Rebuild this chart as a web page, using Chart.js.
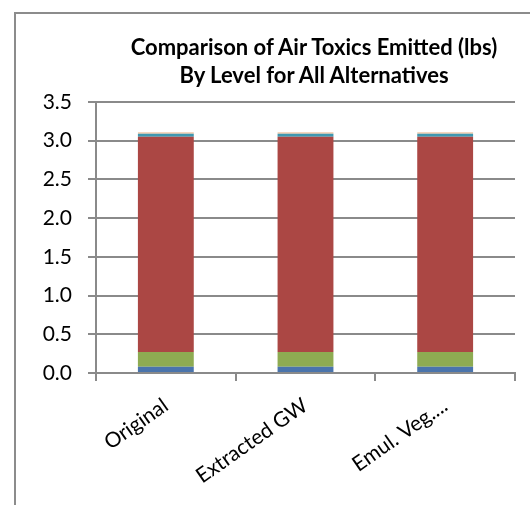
<!DOCTYPE html>
<html>
<head>
<meta charset="utf-8">
<script src="https://cdn.jsdelivr.net/npm/chart.js@4/dist/chart.umd.min.js"></script>
<style>
  html, body { margin: 0; padding: 0; background: #fff; }
  #wrap { position: relative; width: 530px; height: 505px; overflow: hidden; }
  #frame { position: absolute; left: 14px; top: 12px; width: 600px; height: 600px;
           border-left: 2px solid #8c8c8c; border-top: 2px solid #8c8c8c; }
  #title { position: absolute; left: 94px; width: 440px; top: 33px; text-align: center;
           font-family: Lato, "Open Sans", sans-serif; font-weight: bold; font-size: 22px;
           line-height: 28px; color: #000; }
  canvas { position: absolute; left: 0; top: 0; }
</style>
</head>
<body>
<div id="wrap">
  <div id="frame"></div>
  <canvas id="c" width="530" height="505"></canvas>
  <div id="title">Comparison of Air Toxics Emitted (lbs)<br>By Level for All Alternatives</div>
</div>
<script>
const categories = ["Original", "Extracted GW", "Emul. Veg...."];
const level1 = [0.08, 0.08, 0.08];
const level2 = [0.19, 0.19, 0.19];
const level3 = [2.78, 2.78, 2.78];
const level4 = [0.04, 0.04, 0.04];
const level5 = [0.02, 0.02, 0.02];
const yTicks = [0, 0.5, 1.0, 1.5, 2.0, 2.5, 3.0, 3.5];

const gridColor = '#8a8a8a';
const tickFont = { family: 'Lato, "Open Sans", sans-serif', size: 21 };

new Chart(document.getElementById('c'), {
  type: 'bar',
  data: {
    labels: categories,
    datasets: [
      { label: 'Level 1', data: level1, backgroundColor: '#4a74ac' },
      { label: 'Level 2', data: level2, backgroundColor: '#8eab52' },
      { label: 'Level 3', data: level3, backgroundColor: '#ab4744' },
      { label: 'Level 4', data: level4, backgroundColor: '#3f98b0' },
      { label: 'Level 5', data: level5, backgroundColor: '#f0c9a8' }
    ]
  },
  options: {
    responsive: false,
    animation: false,
    layout: { padding: { left: 0, right: 15, top: 102, bottom: 0 } },
    datasets: { bar: { categoryPercentage: 1.0, barPercentage: 0.4 } },
    plugins: { legend: { display: false }, tooltip: { enabled: false }, title: { display: false } },
    scales: {
      x: {
        stacked: true,
        afterFit: s => { s.height = 132; },
        grid: { offset: true, drawOnChartArea: false, color: gridColor, lineWidth: 2, tickLength: 8 },
        border: { display: true, color: gridColor, width: 2 },
        ticks: { color: '#000', font: tickFont, minRotation: 35, maxRotation: 35, padding: 12, autoSkip: false }
      },
      y: {
        stacked: true,
        min: 0, max: 3.5,
        afterFit: s => { s.width = 96; },
        afterBuildTicks: s => { s.ticks = yTicks.map(v => ({ value: v })); },
        grid: { color: gridColor, lineWidth: 2, tickLength: 8 },
        border: { display: true, color: gridColor, width: 2 },
        ticks: { color: '#000', font: tickFont, padding: 16, callback: v => Number(v).toFixed(1) }
      }
    }
  }
});
</script>
</body>
</html>
